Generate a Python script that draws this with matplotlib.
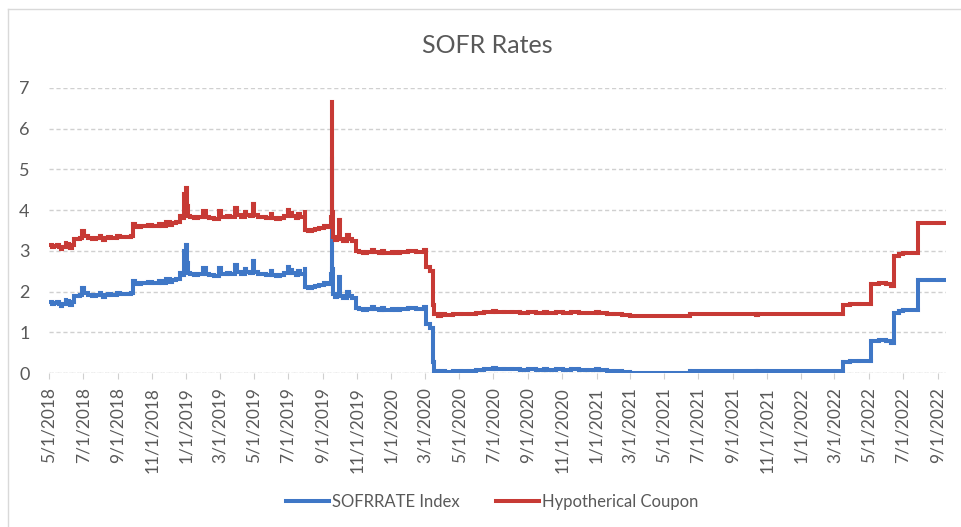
import matplotlib
matplotlib.use("Agg")
import matplotlib.pyplot as plt
import matplotlib.dates as mdates
from matplotlib.lines import Line2D
from matplotlib.collections import LineCollection
import pandas as pd

plt.rcParams['font.family'] = ['Lato', 'DejaVu Sans']

dates = [
    "2018-05-01", "2018-05-07", "2018-05-10", "2018-05-15", "2018-05-18", "2018-05-22", "2018-05-25", "2018-05-31",
    "2018-06-01", "2018-06-05", "2018-06-08", "2018-06-11", "2018-06-14", "2018-06-20", "2018-06-25", "2018-06-29",
    "2018-07-02", "2018-07-03", "2018-07-09", "2018-07-16", "2018-07-23", "2018-07-31", "2018-08-02", "2018-08-06",
    "2018-08-09", "2018-08-15", "2018-08-20", "2018-08-31", "2018-09-04", "2018-09-11", "2018-09-17", "2018-09-24",
    "2018-09-27", "2018-10-01", "2018-10-05", "2018-10-12", "2018-10-18", "2018-10-25", "2018-10-31", "2018-11-05",
    "2018-11-13", "2018-11-19", "2018-11-26", "2018-12-03", "2018-12-07", "2018-12-13", "2018-12-20", "2018-12-24",
    "2018-12-28", "2018-12-31", "2019-01-02", "2019-01-03", "2019-01-08", "2019-01-15", "2019-01-22", "2019-01-31",
    "2019-02-04", "2019-02-11", "2019-02-19", "2019-02-28", "2019-03-04", "2019-03-11", "2019-03-15", "2019-03-20",
    "2019-03-29", "2019-04-02", "2019-04-08", "2019-04-15", "2019-04-17", "2019-04-24", "2019-04-30", "2019-05-02",
    "2019-05-08", "2019-05-15", "2019-05-22", "2019-05-31", "2019-06-03", "2019-06-10", "2019-06-17", "2019-06-24",
    "2019-07-01", "2019-07-03", "2019-07-08", "2019-07-15", "2019-07-19", "2019-07-22", "2019-07-31", "2019-08-01",
    "2019-08-05", "2019-08-12", "2019-08-19", "2019-08-26", "2019-09-03", "2019-09-09", "2019-09-16", "2019-09-17",
    "2019-09-18", "2019-09-19", "2019-09-23", "2019-09-27", "2019-09-30", "2019-10-02", "2019-10-07", "2019-10-15",
    "2019-10-17", "2019-10-24", "2019-10-31", "2019-11-04", "2019-11-12", "2019-11-18", "2019-11-27", "2019-12-02",
    "2019-12-10", "2019-12-16", "2019-12-19", "2020-01-02", "2020-01-10", "2020-01-17", "2020-01-31", "2020-02-04",
    "2020-02-14", "2020-02-28", "2020-03-03", "2020-03-10", "2020-03-16", "2020-03-18", "2020-03-24", "2020-03-30",
    "2020-04-06", "2020-04-20", "2020-05-04", "2020-05-18", "2020-06-01", "2020-06-15", "2020-06-30", "2020-07-06",
    "2020-07-20", "2020-08-03", "2020-08-17", "2020-09-01", "2020-09-15", "2020-09-30", "2020-10-05", "2020-10-20",
    "2020-11-02", "2020-11-16", "2020-12-01", "2020-12-15", "2020-12-31", "2021-01-05", "2021-01-20", "2021-02-01",
    "2021-02-16", "2021-03-01", "2021-06-17", "2021-10-12", "2021-10-15", "2022-03-17", "2022-03-28", "2022-04-14",
    "2022-05-05", "2022-05-20", "2022-06-01", "2022-06-10", "2022-06-16", "2022-06-24", "2022-07-01", "2022-07-28",
    "2022-08-15", "2022-09-01", "2022-09-16",
]

sofr = [
    1.74, 1.70, 1.72, 1.75, 1.70, 1.64, 1.70, 1.80,
    1.76, 1.72, 1.68, 1.74, 1.90, 1.88, 1.92, 2.10,
    2.04, 1.96, 1.92, 1.90, 1.92, 1.96, 1.91, 1.86,
    1.92, 1.93, 1.91, 1.97, 1.95, 1.93, 1.95, 1.96,
    2.25, 2.21, 2.19, 2.20, 2.22, 2.24, 2.21, 2.22,
    2.25, 2.22, 2.30, 2.24, 2.28, 2.32, 2.46, 2.41,
    3.00, 3.15, 2.70, 2.46, 2.42, 2.40, 2.42, 2.58,
    2.42, 2.40, 2.39, 2.58, 2.43, 2.42, 2.46, 2.42,
    2.65, 2.47, 2.44, 2.55, 2.48, 2.46, 2.75, 2.48,
    2.44, 2.42, 2.40, 2.50, 2.40, 2.38, 2.40, 2.45,
    2.60, 2.52, 2.45, 2.40, 2.50, 2.42, 2.55, 2.12,
    2.08, 2.12, 2.14, 2.16, 2.20, 2.18, 2.43, 5.25,
    2.55, 1.95, 1.86, 1.90, 2.35, 1.88, 1.85, 2.00,
    1.90, 1.83, 1.60, 1.58, 1.55, 1.56, 1.62, 1.57,
    1.55, 1.60, 1.55, 1.58, 1.55, 1.56, 1.60, 1.59,
    1.58, 1.61, 1.20, 1.10, 0.26, 0.05, 0.01, 0.04,
    0.03, 0.05, 0.04, 0.06, 0.07, 0.09, 0.12, 0.10,
    0.09, 0.10, 0.08, 0.09, 0.08, 0.10, 0.08, 0.09,
    0.08, 0.09, 0.08, 0.07, 0.09, 0.07, 0.05, 0.04,
    0.02, 0.01, 0.05, 0.03, 0.05, 0.28, 0.29, 0.30,
    0.78, 0.80, 0.78, 0.73, 1.48, 1.52, 1.55, 2.28,
    2.29, 2.28, 2.28,
]

coupon = [
    3.14, 3.10, 3.12, 3.15, 3.10, 3.04, 3.10, 3.20,
    3.16, 3.12, 3.08, 3.14, 3.30, 3.28, 3.32, 3.50,
    3.44, 3.36, 3.32, 3.30, 3.32, 3.36, 3.31, 3.26,
    3.32, 3.33, 3.31, 3.37, 3.35, 3.33, 3.35, 3.36,
    3.65, 3.61, 3.59, 3.60, 3.62, 3.64, 3.61, 3.62,
    3.65, 3.62, 3.70, 3.64, 3.68, 3.72, 3.86, 3.81,
    4.40, 4.55, 4.10, 3.86, 3.82, 3.80, 3.82, 3.98,
    3.82, 3.80, 3.79, 3.98, 3.83, 3.82, 3.86, 3.82,
    4.05, 3.87, 3.84, 3.95, 3.88, 3.86, 4.15, 3.88,
    3.84, 3.82, 3.80, 3.90, 3.80, 3.78, 3.80, 3.85,
    4.00, 3.92, 3.85, 3.80, 3.90, 3.82, 3.95, 3.52,
    3.48, 3.52, 3.54, 3.56, 3.60, 3.58, 3.83, 6.65,
    3.95, 3.35, 3.26, 3.30, 3.75, 3.28, 3.25, 3.40,
    3.30, 3.23, 3.00, 2.98, 2.95, 2.96, 3.02, 2.97,
    2.95, 3.00, 2.95, 2.98, 2.95, 2.96, 3.00, 2.99,
    2.98, 3.01, 2.60, 2.50, 1.66, 1.45, 1.41, 1.44,
    1.43, 1.45, 1.44, 1.46, 1.47, 1.49, 1.52, 1.50,
    1.49, 1.50, 1.48, 1.49, 1.48, 1.50, 1.48, 1.49,
    1.48, 1.49, 1.48, 1.47, 1.49, 1.47, 1.45, 1.44,
    1.42, 1.41, 1.45, 1.43, 1.45, 1.68, 1.69, 1.70,
    2.18, 2.20, 2.18, 2.13, 2.88, 2.92, 2.95, 3.68,
    3.69, 3.68, 3.68,
]

tick_labels = [
    "5/1/2018", "7/1/2018", "9/1/2018", "11/1/2018", "1/1/2019", "3/1/2019", "5/1/2019",
    "7/1/2019", "9/1/2019", "11/1/2019", "1/1/2020", "3/1/2020", "5/1/2020", "7/1/2020",
    "9/1/2020", "11/1/2020", "1/1/2021", "3/1/2021", "5/1/2021", "7/1/2021", "9/1/2021",
    "11/1/2021", "1/1/2022", "3/1/2022", "5/1/2022", "7/1/2022", "9/1/2022",
]
y_ticks = [0, 1, 2, 3, 4, 5, 6, 7]

series_names = ["SOFRRATE Index", "Hypotherical Coupon"]
colors = ["#3F77C6", "#C73A35"]
text_color = "#595959"
grid_color = "#D0D0D0"
lw = 2.9

xnum = mdates.date2num(pd.to_datetime(dates).to_pydatetime())
tick_pos = mdates.date2num(pd.to_datetime(tick_labels, format="%m/%d/%Y").to_pydatetime())


def step_segments(xs, ys):
    segs = []
    for i in range(len(xs) - 1):
        segs.append([(xs[i], ys[i]), (xs[i + 1], ys[i])])
        segs.append([(xs[i + 1], ys[i]), (xs[i + 1], ys[i + 1])])
    return segs


fig = plt.figure(figsize=(9.61, 5.27), dpi=100)
ax = fig.add_axes([49 / 961, 154 / 527, 897 / 961, 285 / 527])

for vals, col, z in [(sofr, colors[0], 2), (coupon, colors[1], 3)]:
    lc = LineCollection(step_segments(xnum, vals), colors=col, linewidths=lw,
                        capstyle="projecting", zorder=z)
    ax.add_collection(lc)

ax.set_xlim(xnum[0], xnum[-1])
ax.set_ylim(0, 7)
ax.set_yticks(y_ticks)
ax.set_yticklabels([str(v) for v in y_ticks])
ax.set_xticks(tick_pos)
ax.set_xticklabels(tick_labels, rotation=90)

for s in ax.spines.values():
    s.set_visible(False)
ax.grid(axis="y", color=grid_color, linestyle=(0, (3, 2)), lw=1.0)
ax.set_axisbelow(True)
ax.axhline(0, color=grid_color, lw=1.0, linestyle=(0, (1, 1)), zorder=0.5)
ax.tick_params(axis="y", length=0, pad=14, labelsize=13, labelcolor=text_color)
ax.tick_params(axis="x", length=4, width=0.8, color=grid_color, direction="out",
               pad=6, labelsize=12.5, labelcolor=text_color)

fig.text(487 / 961, 1 - 45 / 527, "SOFR Rates", ha="center", va="center",
         fontsize=18, color=text_color)

handles = [Line2D([], [], color=colors[0], lw=lw), Line2D([], [], color=colors[1], lw=lw)]
fig.legend(handles, series_names, loc="center", bbox_to_anchor=(492 / 961, 1 - 502 / 527), ncol=2,
           frameon=False, fontsize=12, handlelength=2.6, handletextpad=0.15,
           columnspacing=2.2, labelcolor=text_color)

fig.add_artist(Line2D([8 / 961, 1], [1 - 9 / 527, 1 - 9 / 527], transform=fig.transFigure,
                      color="#D9D9D9", lw=1))
fig.add_artist(Line2D([8 / 961, 8 / 961], [0, 1 - 9 / 527], transform=fig.transFigure,
                      color="#D9D9D9", lw=1))

fig.savefig("out.png", dpi=100)
